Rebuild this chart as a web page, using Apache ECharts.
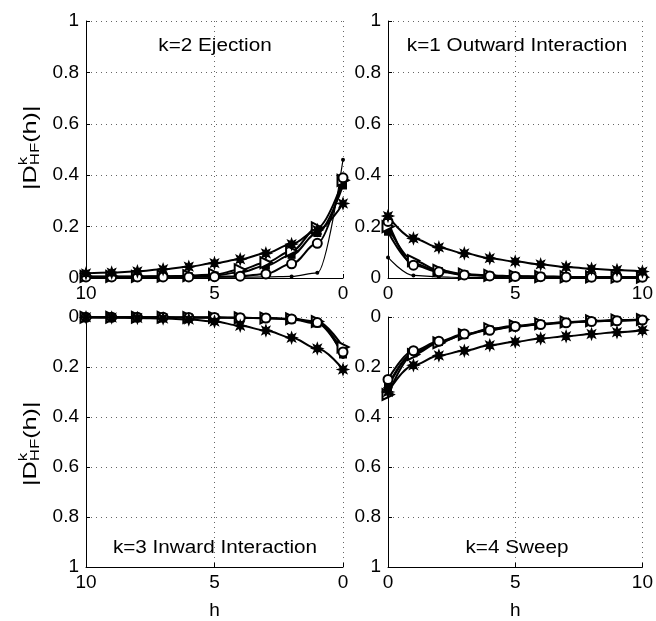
<!DOCTYPE html>
<html>
<head>
<meta charset="utf-8">
<script src="https://cdn.jsdelivr.net/npm/echarts@6/dist/echarts.min.js"></script>
<style>
  html, body { margin: 0; padding: 0; background: #fff; }
  #chart { width: 656px; height: 621px; }
</style>
</head>
<body>
<div id="chart"></div>
<script>
// Lag distance h
const H = [0, 1, 2, 3, 4, 5, 6, 7, 8, 9, 10];

// k=2 Ejection
const ejStar     = [0.29, 0.187, 0.132, 0.096, 0.073, 0.058, 0.044, 0.034, 0.026, 0.021, 0.018];
const ejCircle   = [0.39, 0.135, 0.055, 0.016, 0.007, 0.005, 0.004, 0.004, 0.004, 0.004, 0.004];
const ejTriangle = [0.38, 0.195, 0.105, 0.06, 0.032, 0.014, 0.009, 0.007, 0.006, 0.006, 0.006];
const ejSquare   = [0.36, 0.175, 0.09, 0.048, 0.022, 0.01, 0.007, 0.006, 0.005, 0.005, 0.005];
const ejDot      = [0.46, 0.02, 0.006, 0.004, 0.003, 0.003, 0.003, 0.003, 0.003, 0.003, 0.003];

// k=1 Outward Interaction
const ouStar     = [0.241, 0.154, 0.119, 0.096, 0.077, 0.064, 0.053, 0.043, 0.036, 0.031, 0.025];
const ouCircle   = [0.22, 0.05, 0.024, 0.012, 0.008, 0.006, 0.005, 0.004, 0.003, 0.003, 0.003];
const ouTriangle = [0.2, 0.068, 0.03, 0.015, 0.01, 0.007, 0.005, 0.004, 0.004, 0.003, 0.003];
const ouSquare   = [0.18, 0.056, 0.027, 0.014, 0.009, 0.006, 0.005, 0.004, 0.003, 0.003, 0.003];
const ouDot      = [0.08, 0.01, 0.004, 0.002, 0.002, 0.001, 0.001, 0.001, 0.001, 0.001, 0.001];

// k=3 Inward Interaction
const inStar     = [0.21, 0.126, 0.083, 0.054, 0.035, 0.018, 0.01, 0.006, 0.004, 0.002, 0.001];
const inCircle   = [0.14, 0.022, 0.008, 0.004, 0.003, 0.002, 0.002, 0.001, 0.001, 0.001, 0.001];
const inTriangle = [0.12, 0.018, 0.007, 0.004, 0.003, 0.002, 0.002, 0.001, 0.001, 0.001, 0.001];
const inSquare   = [0.15, 0.026, 0.01, 0.005, 0.003, 0.002, 0.002, 0.001, 0.001, 0.001, 0.001];
const inDot      = [0.16, 0.02, 0.008, 0.004, 0.003, 0.002, 0.002, 0.001, 0.001, 0.001, 0.001];

// k=4 Sweep
const swStar     = [0.30, 0.193, 0.154, 0.135, 0.113, 0.099, 0.086, 0.077, 0.068, 0.061, 0.053];
const swCircle   = [0.25, 0.135, 0.097, 0.068, 0.053, 0.038, 0.03, 0.023, 0.018, 0.015, 0.012];
const swTriangle = [0.31, 0.15, 0.103, 0.07, 0.047, 0.035, 0.027, 0.02, 0.015, 0.012, 0.01];
const swSquare   = [0.28, 0.145, 0.1, 0.072, 0.05, 0.038, 0.028, 0.022, 0.017, 0.014, 0.011];
const swDot      = [0.27, 0.14, 0.1, 0.07, 0.05, 0.037, 0.028, 0.021, 0.016, 0.013, 0.011];

const panelTitles = ['k=2 Ejection', 'k=1 Outward Interaction', 'k=3 Inward Interaction', 'k=4 Sweep'];
const xTicks = [0, 5, 10];
const yTicks = [0, 0.2, 0.4, 0.6, 0.8, 1];

const FONT = '"Liberation Sans", Arial, Helvetica, sans-serif';
// eight-armed asterisk marker
const ASTERISK = 'path://M0,-10 L1.9,-4.6 L7.07,-7.07 L4.6,-1.9 L10,0 L4.6,1.9 L7.07,7.07 L1.9,4.6 L0,10 L-1.9,4.6 L-7.07,7.07 L-4.6,1.9 L-10,0 L-4.6,-1.9 L-7.07,-7.07 L-1.9,-4.6 Z';

const markers = {
  star:     { symbol: ASTERISK, symbolSize: 11, lineWidth: 2, border: 1.2 },
  circle:   { symbol: 'emptyCircle', symbolSize: 9, lineWidth: 2, border: 1.6 },
  triangle: { symbol: 'emptyTriangle', symbolSize: 11, symbolRotate: -90, lineWidth: 2, border: 1.6 },
  square:   { symbol: 'rect', symbolSize: 8, lineWidth: 2, border: 0 },
  dot:      { symbol: 'circle', symbolSize: 4, lineWidth: 1.2, border: 0 }
};

const panels = [
  { inverseX: true,  inverseY: false, sets: [['dot', ejDot], ['square', ejSquare], ['triangle', ejTriangle], ['circle', ejCircle], ['star', ejStar]] },
  { inverseX: false, inverseY: false, sets: [['dot', ouDot], ['square', ouSquare], ['triangle', ouTriangle], ['circle', ouCircle], ['star', ouStar]] },
  { inverseX: true,  inverseY: true,  sets: [['dot', inDot], ['square', inSquare], ['triangle', inTriangle], ['circle', inCircle], ['star', inStar]] },
  { inverseX: false, inverseY: true,  sets: [['dot', swDot], ['square', swSquare], ['triangle', swTriangle], ['circle', swCircle], ['star', swStar]] }
];

const grids = [
  { left: 86,  top: 21,  width: 257, height: 257 },
  { left: 388, top: 21,  width: 259, height: 257 },
  { left: 86,  top: 317, width: 257, height: 257 },
  { left: 388, top: 317, width: 259, height: 257 }
];

const gridLine = { show: true, lineStyle: { color: '#666', width: 1, type: [1, 4] } };
const axisText = { color: '#000', fontSize: 19, fontFamily: FONT };

const xAxes = panels.map((p, i) => ({
  type: 'value', gridIndex: i, min: xTicks[0], max: xTicks[xTicks.length - 1], interval: 5,
  inverse: p.inverseX,
  name: i >= 2 ? 'h' : '', nameLocation: 'middle', nameGap: 34,
  nameTextStyle: { color: '#000', fontSize: 19, fontFamily: FONT },
  axisLine: { show: true, onZero: false, lineStyle: { color: '#000', width: 1 } },
  axisTick: { show: true, inside: true, length: 4, lineStyle: { color: '#000' } },
  axisLabel: Object.assign({ margin: 6 }, axisText),
  splitLine: gridLine
}));

const yAxes = panels.map((p, i) => ({
  type: 'value', gridIndex: i, min: yTicks[0], max: yTicks[yTicks.length - 1], interval: 0.2,
  inverse: p.inverseY,
  axisLine: { show: true, onZero: false, lineStyle: { color: '#000', width: 1 } },
  axisTick: { show: true, inside: true, length: 4, lineStyle: { color: '#000' } },
  axisLabel: Object.assign({ margin: 7, formatter: v => String(+v.toFixed(1)) }, axisText),
  splitLine: gridLine
}));

const series = [];
panels.forEach((p, i) => {
  p.sets.forEach(([kind, vals]) => {
    const m = markers[kind];
    series.push({
      type: 'line', xAxisIndex: i, yAxisIndex: i,
      data: H.map((h, j) => [h, vals[j]]),
      smooth: 0.35, smoothMonotone: 'x',
      symbol: m.symbol, symbolSize: m.symbolSize, symbolRotate: m.symbolRotate || 0,
      showAllSymbol: true,
      lineStyle: { color: '#000', width: m.lineWidth },
      itemStyle: { color: '#000', borderColor: '#000', borderWidth: m.border },
      emphasis: { disabled: true },
      animation: false, z: 3
    });
  });
});

// Panel titles
const titleCenters = [[215, 46], [517, 46], [215, 548], [517, 548]];
const graphics = panelTitles.map((t, i) => ({
  type: 'text', x: titleCenters[i][0], y: titleCenters[i][1], scaleX: 1.15,
  style: { text: t, font: '18px ' + FONT, fill: '#000', textAlign: 'center', textVerticalAlign: 'middle', verticalAlign: 'middle' },
  z: 10
}));

// Rotated y-axis label |D^k_HF(h)|
function yLabel(cx, cy) {
  const main = '18px ' + FONT, small = '12px ' + FONT;
  const mk = (text, x, y, font) => ({ type: 'text', x: x, y: y,
    style: { text: text, font: font, fill: '#000', textAlign: 'left', textVerticalAlign: 'middle', verticalAlign: 'middle' } });
  return {
    type: 'group', x: cx, y: cy, rotation: Math.PI / 2, scaleX: 1.4,
    children: [
      mk('|D', -30, 0, main),
      mk('k', -12.3, -7, small),
      mk('HF', -12.3, 5, small),
      mk('(h)|', 3.7, 0, main)
    ]
  };
}
graphics.push(yLabel(31, 148));
graphics.push(yLabel(31, 444));

const chart = echarts.init(document.getElementById('chart'), null, { renderer: 'canvas' });
chart.setOption({
  backgroundColor: '#fff',
  animation: false,
  grid: grids,
  xAxis: xAxes,
  yAxis: yAxes,
  series: series,
  graphic: graphics
});
</script>
</body>
</html>
